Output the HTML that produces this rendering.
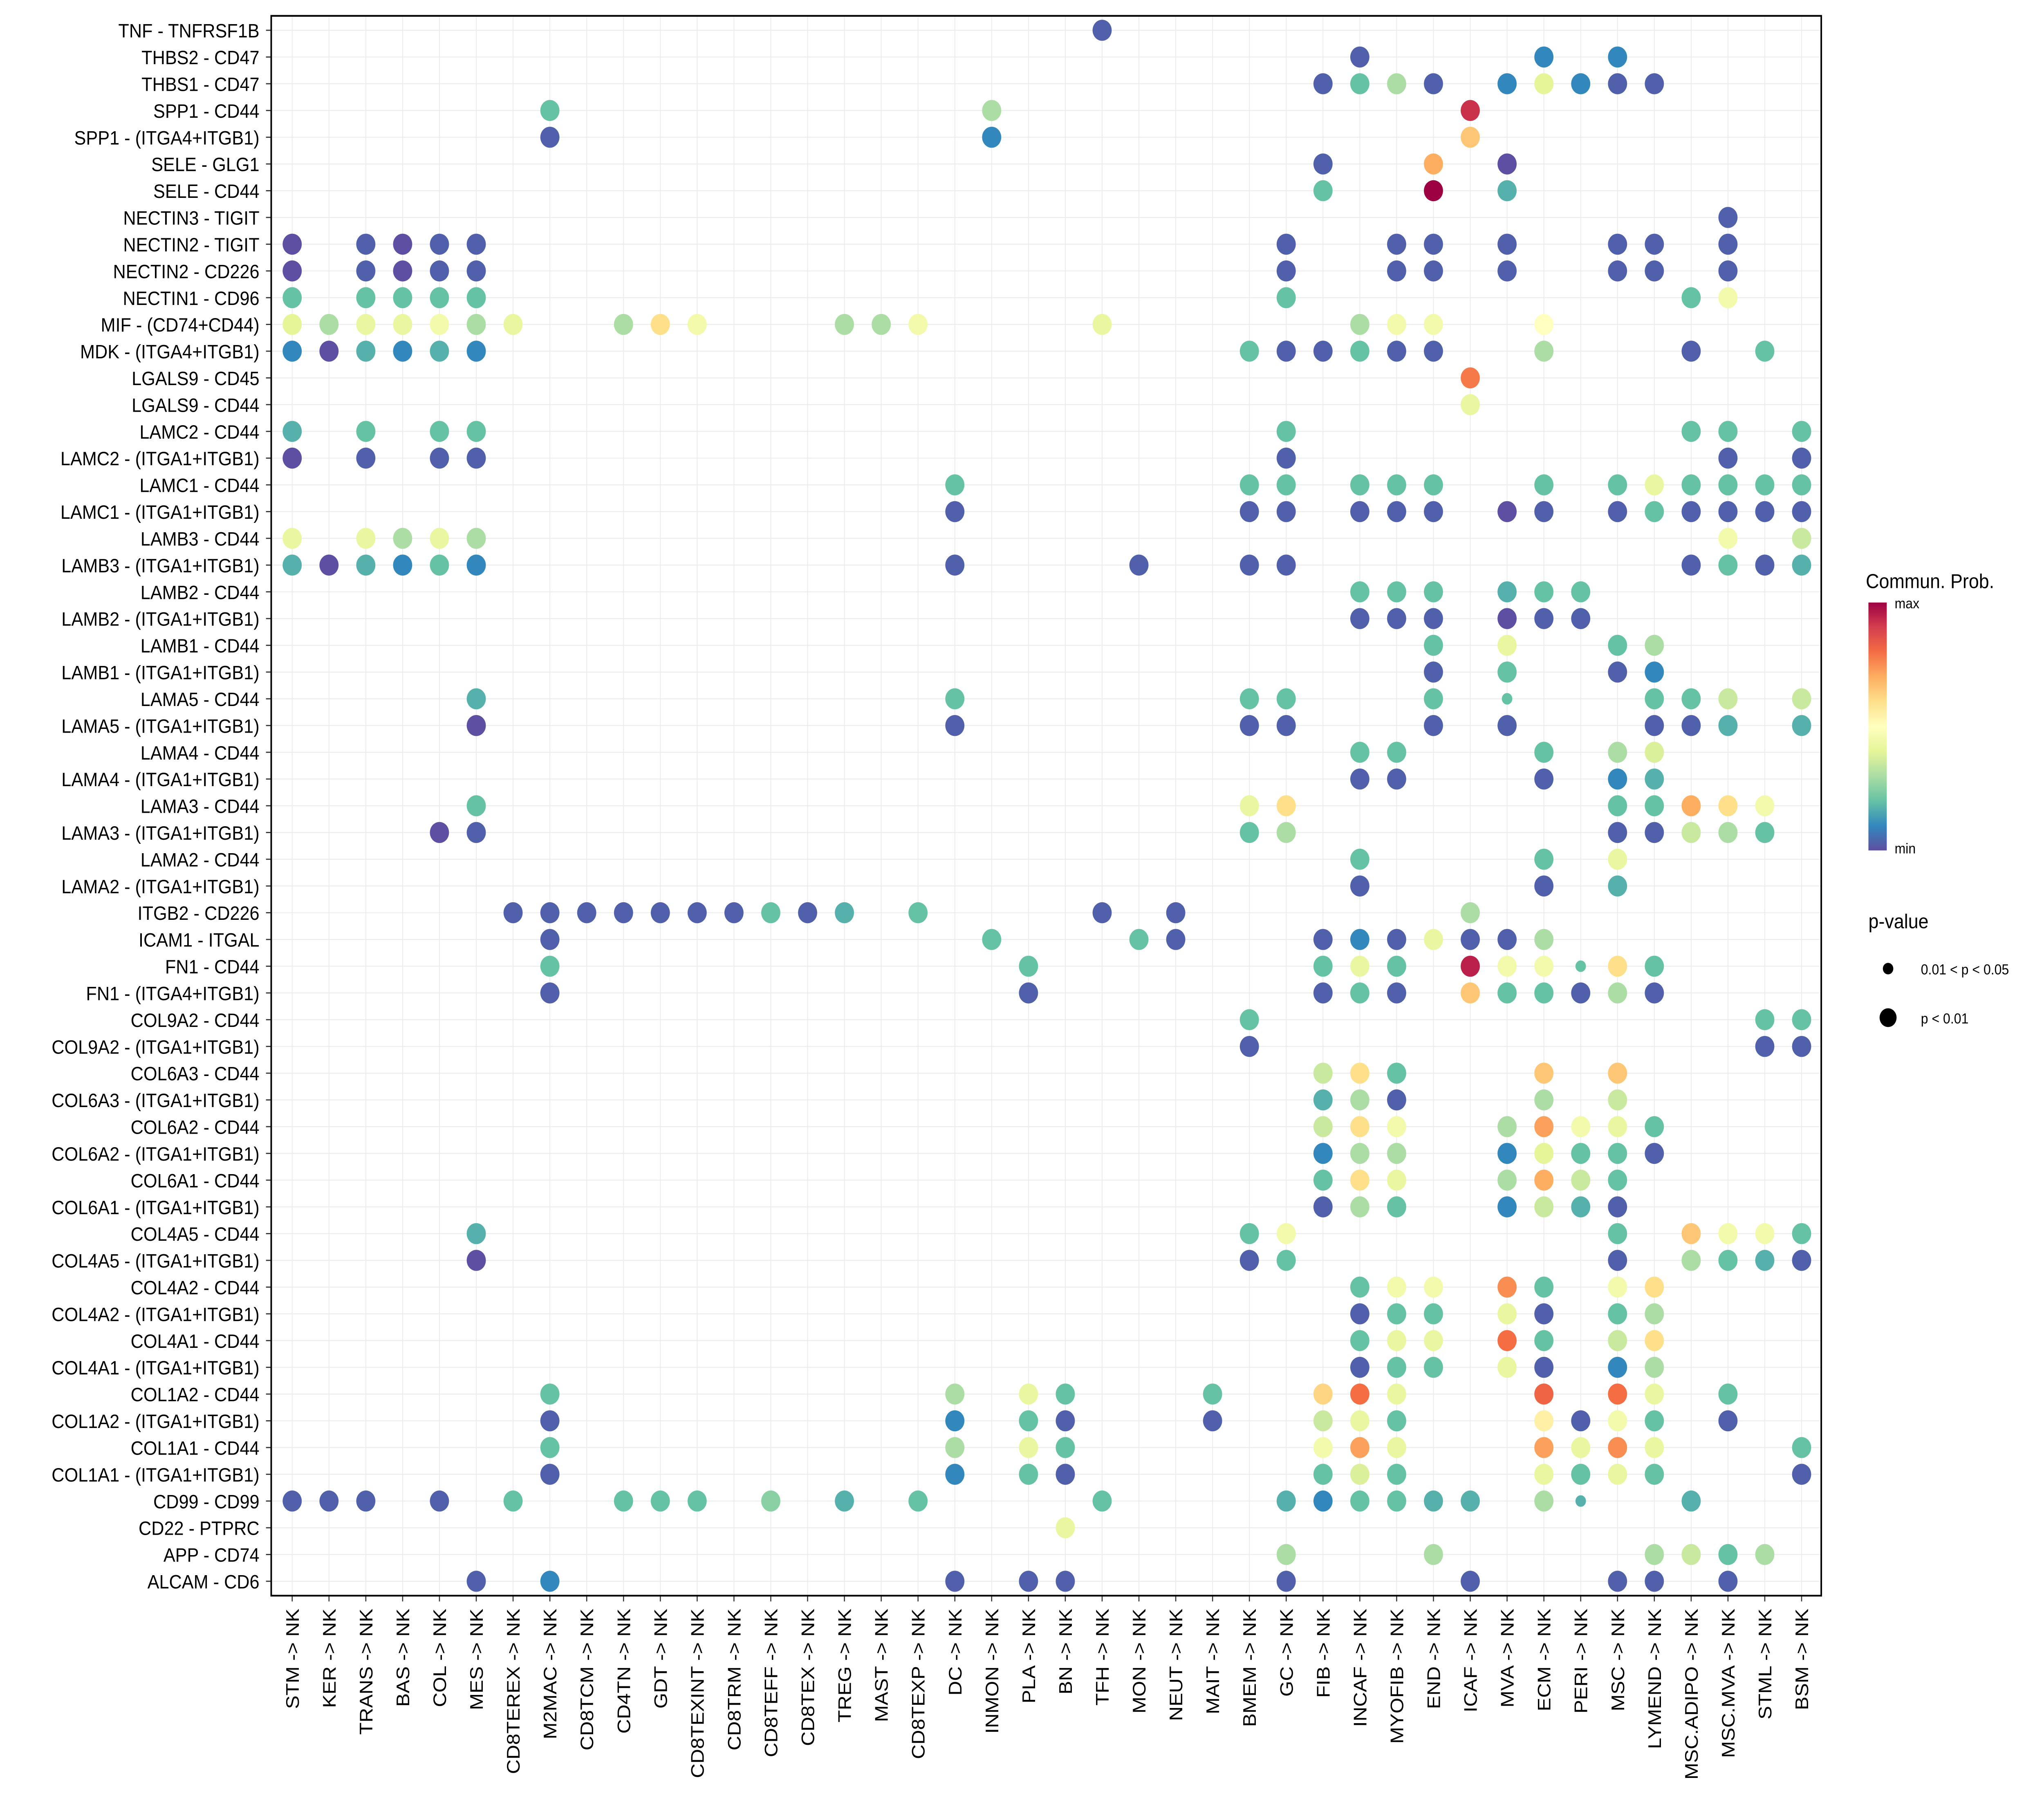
<!DOCTYPE html>
<html><head><meta charset="utf-8"><style>
html,body{margin:0;padding:0;background:#fff;width:100%;height:100%;overflow:hidden;}
svg{display:block;position:absolute;left:0;top:0;width:100vw;height:100vh;font-family:"Liberation Sans",Arial,sans-serif;}
</style></head><body>
<svg id="chart" viewBox="0 0 1560 1255" preserveAspectRatio="none" xmlns="http://www.w3.org/2000/svg">
<rect x="0" y="0" width="1560" height="1255" fill="#fff"/>
<g id="grid"></g>
<g id="dots"></g>
<rect x="207" y="11" width="1183" height="1096" fill="none" stroke="#000" stroke-width="1.2"/>
<g id="ylabels"></g>
<g id="xlabels"></g>
<g id="legend">
  <defs><linearGradient id="cg" x1="0" y1="1" x2="0" y2="0">
    <stop offset="0" stop-color="#5E4FA2"/><stop offset="0.1" stop-color="#3288BD"/><stop offset="0.2" stop-color="#66C2A5"/><stop offset="0.3" stop-color="#ABDDA4"/><stop offset="0.4" stop-color="#E6F598"/><stop offset="0.5" stop-color="#FFFFBF"/><stop offset="0.6" stop-color="#FEE08B"/><stop offset="0.7" stop-color="#FDAE61"/><stop offset="0.8" stop-color="#F46D43"/><stop offset="0.9" stop-color="#D53E4F"/><stop offset="1" stop-color="#9E0142"/>
  </linearGradient></defs>
  <text x="1424" y="408" font-size="14">Commun. Prob.</text>
  <rect x="1426" y="418" width="14" height="172" fill="url(#cg)"/>
  <text x="1446" y="422" font-size="10">max</text>
  <text x="1446" y="592" font-size="10">min</text>
  <text x="1426" y="644" font-size="14">p-value</text>
  <circle cx="1441" cy="672" r="4" fill="#000"/>
  <text x="1466" y="676" font-size="10">0.01 &lt; p &lt; 0.05</text>
  <circle cx="1441" cy="706" r="6.5" fill="#000"/>
  <text x="1466" y="710" font-size="10">p &lt; 0.01</text>
</g>
</svg>
<script>
const rows = ["TNF - TNFRSF1B","THBS2 - CD47","THBS1 - CD47","SPP1 - CD44","SPP1 - (ITGA4+ITGB1)","SELE - GLG1","SELE - CD44","NECTIN3 - TIGIT","NECTIN2 - TIGIT","NECTIN2 - CD226","NECTIN1 - CD96","MIF - (CD74+CD44)","MDK - (ITGA4+ITGB1)","LGALS9 - CD45","LGALS9 - CD44","LAMC2 - CD44","LAMC2 - (ITGA1+ITGB1)","LAMC1 - CD44","LAMC1 - (ITGA1+ITGB1)","LAMB3 - CD44","LAMB3 - (ITGA1+ITGB1)","LAMB2 - CD44","LAMB2 - (ITGA1+ITGB1)","LAMB1 - CD44","LAMB1 - (ITGA1+ITGB1)","LAMA5 - CD44","LAMA5 - (ITGA1+ITGB1)","LAMA4 - CD44","LAMA4 - (ITGA1+ITGB1)","LAMA3 - CD44","LAMA3 - (ITGA1+ITGB1)","LAMA2 - CD44","LAMA2 - (ITGA1+ITGB1)","ITGB2 - CD226","ICAM1 - ITGAL","FN1 - CD44","FN1 - (ITGA4+ITGB1)","COL9A2 - CD44","COL9A2 - (ITGA1+ITGB1)","COL6A3 - CD44","COL6A3 - (ITGA1+ITGB1)","COL6A2 - CD44","COL6A2 - (ITGA1+ITGB1)","COL6A1 - CD44","COL6A1 - (ITGA1+ITGB1)","COL4A5 - CD44","COL4A5 - (ITGA1+ITGB1)","COL4A2 - CD44","COL4A2 - (ITGA1+ITGB1)","COL4A1 - CD44","COL4A1 - (ITGA1+ITGB1)","COL1A2 - CD44","COL1A2 - (ITGA1+ITGB1)","COL1A1 - CD44","COL1A1 - (ITGA1+ITGB1)","CD99 - CD99","CD22 - PTPRC","APP - CD74","ALCAM - CD6"];
const cols = ["STM","KER","TRANS","BAS","COL","MES","CD8TEREX","M2MAC","CD8TCM","CD4TN","GDT","CD8TEXINT","CD8TRM","CD8TEFF","CD8TEX","TREG","MAST","CD8TEXP","DC","INMON","PLA","BN","TFH","MON","NEUT","MAIT","BMEM","GC","FIB","INCAF","MYOFIB","END","ICAF","MVA","ECM","PERI","MSC","LYMEND","MSC.ADIPO","MSC.MVA","STML","BSM"];
// each entry: "colIndex:probability[s]" (s = 0.01<p<0.05)
const values = [
"22:0.03","29:0.03 34:0.1 36:0.1","28:0.03 29:0.2 30:0.3 31:0.03 33:0.1 34:0.4 35:0.1 36:0.03 37:0.03",
"7:0.2 19:0.3 32:0.92","7:0.03 19:0.1 32:0.65","28:0.03 31:0.7 33:0.0","28:0.2 31:1.0 33:0.17","39:0.03",
"0:0.0 2:0.03 3:0.0 4:0.03 5:0.03 27:0.03 30:0.03 31:0.03 33:0.03 36:0.03 37:0.03 39:0.03",
"0:0.0 2:0.03 3:0.0 4:0.03 5:0.03 27:0.03 30:0.03 31:0.03 33:0.03 36:0.03 37:0.03 39:0.03",
"0:0.2 2:0.2 3:0.2 4:0.2 5:0.2 27:0.2 38:0.2 39:0.45",
"0:0.4 1:0.3 2:0.42 3:0.42 4:0.45 5:0.3 6:0.42 9:0.3 10:0.6 11:0.45 15:0.3 16:0.3 17:0.45 22:0.42 29:0.3 30:0.45 31:0.45 34:0.5",
"0:0.1 1:0.0 2:0.17 3:0.1 4:0.17 5:0.1 26:0.2 27:0.03 28:0.03 29:0.2 30:0.03 31:0.03 34:0.3 38:0.03 40:0.2",
"32:0.78","32:0.42",
"0:0.17 2:0.2 4:0.2 5:0.2 27:0.2 38:0.2 39:0.2 41:0.2",
"0:0.0 2:0.03 4:0.03 5:0.03 27:0.03 39:0.03 41:0.03",
"18:0.2 26:0.2 27:0.2 29:0.2 30:0.2 31:0.2 34:0.2 36:0.2 37:0.42 38:0.2 39:0.2 40:0.2 41:0.2",
"18:0.03 26:0.03 27:0.03 29:0.03 30:0.03 31:0.03 33:0.0 34:0.03 36:0.03 37:0.2 38:0.03 39:0.03 40:0.03 41:0.03",
"0:0.42 2:0.42 3:0.3 4:0.42 5:0.3 39:0.45 41:0.35",
"0:0.17 1:0.0 2:0.17 3:0.1 4:0.2 5:0.1 18:0.03 23:0.03 26:0.03 27:0.03 38:0.03 39:0.2 40:0.03 41:0.17",
"29:0.2 30:0.2 31:0.2 33:0.17 34:0.2 35:0.2","29:0.03 30:0.03 31:0.03 33:0.0 34:0.03 35:0.03",
"31:0.2 33:0.42 36:0.2 37:0.3","31:0.03 33:0.2 36:0.03 37:0.1",
"5:0.17 18:0.2 26:0.2 27:0.2 31:0.2 33:0.2s 37:0.2 38:0.2 39:0.35 41:0.35",
"5:0.0 18:0.03 26:0.03 27:0.03 31:0.03 33:0.03 37:0.03 38:0.03 39:0.17 41:0.17",
"29:0.2 30:0.2 34:0.2 36:0.3 37:0.38","29:0.03 30:0.03 34:0.03 36:0.1 37:0.17",
"5:0.2 26:0.42 27:0.6 36:0.2 37:0.2 38:0.7 39:0.6 40:0.45",
"4:0.0 5:0.03 26:0.2 27:0.3 36:0.03 37:0.03 38:0.35 39:0.3 40:0.2",
"29:0.2 34:0.2 36:0.42","29:0.03 34:0.03 36:0.17",
"6:0.03 7:0.03 8:0.03 9:0.03 10:0.03 11:0.03 12:0.03 13:0.2 14:0.03 15:0.17 17:0.2 22:0.03 24:0.03 32:0.3",
"7:0.03 19:0.2 23:0.2 24:0.03 28:0.03 29:0.1 30:0.03 31:0.42 32:0.03 33:0.03 34:0.3",
"7:0.2 20:0.2 28:0.2 29:0.42 30:0.2 32:0.95 33:0.45 34:0.45 35:0.2s 36:0.6 37:0.2",
"7:0.03 20:0.03 28:0.03 29:0.2 30:0.03 32:0.65 33:0.2 34:0.2 35:0.03 36:0.3 37:0.03",
"26:0.2 40:0.2 41:0.2","26:0.03 40:0.03 41:0.03",
"28:0.35 29:0.6 30:0.2 34:0.65 36:0.65","28:0.17 29:0.3 30:0.03 34:0.3 36:0.35",
"28:0.35 29:0.6 30:0.45 33:0.3 34:0.72 35:0.45 36:0.42 37:0.2",
"28:0.1 29:0.3 30:0.3 33:0.1 34:0.4 35:0.2 36:0.2 37:0.03",
"28:0.2 29:0.6 30:0.42 33:0.3 34:0.7 35:0.35 36:0.2",
"28:0.03 29:0.3 30:0.2 33:0.1 34:0.35 35:0.17 36:0.03",
"5:0.17 26:0.2 27:0.45 36:0.2 38:0.65 39:0.45 40:0.45 41:0.2",
"5:0.0 26:0.03 27:0.2 36:0.03 38:0.3 39:0.2 40:0.17 41:0.03",
"29:0.2 30:0.45 31:0.45 33:0.75 34:0.2 36:0.45 37:0.6",
"29:0.03 30:0.2 31:0.2 33:0.42 34:0.03 36:0.2 37:0.3",
"29:0.2 30:0.42 31:0.42 33:0.8 34:0.2 36:0.35 37:0.6",
"29:0.03 30:0.2 31:0.2 33:0.42 34:0.03 36:0.1 37:0.3",
"7:0.2 18:0.3 20:0.42 21:0.2 25:0.2 28:0.62 29:0.8 30:0.42 34:0.82 36:0.8 37:0.42 39:0.2",
"7:0.03 18:0.1 20:0.2 21:0.03 25:0.03 28:0.35 29:0.42 30:0.2 34:0.55 35:0.03 36:0.45 37:0.2 39:0.03",
"7:0.2 18:0.3 20:0.42 21:0.2 28:0.45 29:0.72 30:0.42 34:0.72 35:0.42 36:0.75 37:0.42 41:0.2",
"7:0.03 18:0.1 20:0.2 21:0.03 28:0.2 29:0.38 30:0.2 34:0.42 35:0.2 36:0.42 37:0.2 41:0.03",
"0:0.03 1:0.03 2:0.03 4:0.03 6:0.2 9:0.2 10:0.2 11:0.2 13:0.25 15:0.17 17:0.2 22:0.2 27:0.17 28:0.1 29:0.2 30:0.2 31:0.17 32:0.17 34:0.3 35:0.17s 38:0.17",
"21:0.42","27:0.3 31:0.3 37:0.3 38:0.35 39:0.2 40:0.3",
"5:0.03 7:0.1 18:0.03 20:0.03 21:0.03 27:0.03 32:0.03 36:0.03 37:0.03 39:0.03"
];
const NS="http://www.w3.org/2000/svg";
const x0=223, dx=(1375-223)/41, y0=21, dy=(1097-21)/58;
const xs=i=>x0+i*dx, ys=j=>y0+j*dy;
const stops=["#5E4FA2","#3288BD","#66C2A5","#ABDDA4","#E6F598","#FFFFBF","#FEE08B","#FDAE61","#F46D43","#D53E4F","#9E0142"].map(h=>[1,3,5].map(k=>parseInt(h.substr(k,2),16)));
function color(v){v=Math.max(0,Math.min(1,v))*10;const i=Math.min(9,Math.floor(v)),t=v-i;const a=stops[i],b=stops[i+1];return "rgb("+a.map((c,k)=>Math.round(c+(b[k]-c)*t)).join(",")+")";}
function mk(tag,attrs,parent){const e=document.createElementNS(NS,tag);for(const k in attrs)e.setAttribute(k,attrs[k]);parent.appendChild(e);return e;}
const grid=document.getElementById('grid'),dots=document.getElementById('dots'),yl=document.getElementById('ylabels'),xl=document.getElementById('xlabels');
rows.forEach((r,j)=>{
  const l=mk('line',{x1:207,x2:1390,y1:ys(j),y2:ys(j),stroke:'#ebebeb','stroke-width':0.6},grid);
  
  
  const tk=mk('line',{x1:203,x2:207,y1:ys(j),y2:ys(j),stroke:'#333','stroke-width':0.8},grid);
  
  
  const t=mk('text',{x:198,y:ys(j)+5,'font-size':13.5,'text-anchor':'end'},yl);
  t.textContent=r;
  
  
});
cols.forEach((c,i)=>{
  const l=mk('line',{x1:xs(i),x2:xs(i),y1:11,y2:1107,stroke:'#ebebeb','stroke-width':0.6},grid);
  
  
  const tk=mk('line',{x1:xs(i),x2:xs(i),y1:1107,y2:1111,stroke:'#333','stroke-width':0.8},grid);
  
  
  const t=mk('text',{x:0,y:0,'font-size':14,'text-anchor':'end',transform:'translate('+(xs(i)+5)+',1116) rotate(-90)'},xl);
  t.textContent=c+" -> NK";
  
  
});
values.forEach((row,j)=>{
  row.split(' ').forEach(tok=>{
    const [ci,vs]=tok.split(':');const small=vs.endsWith('s');const v=parseFloat(vs);
    const c=mk('circle',{cx:xs(+ci),cy:ys(j),r:small?4:7.3,fill:color(v)},dots);
    
    
  });
});
</script>
</body></html>
